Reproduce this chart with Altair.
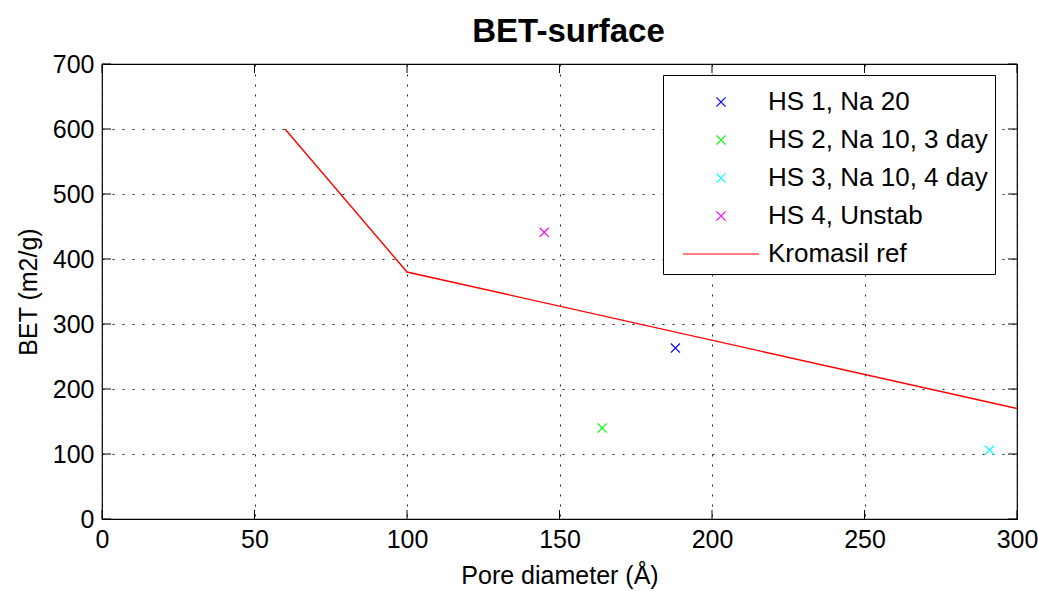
import altair as alt
import pandas as pd

# ---- data ----
series = ["HS 1, Na 20", "HS 2, Na 10, 3 day", "HS 3, Na 10, 4 day", "HS 4, Unstab"]
pore = [188, 164, 291, 145]
bet = [263, 140, 106, 441]

ref_name = "Kromasil ref"
ref_pore = [60, 100, 300]
ref_bet = [600, 380, 170]

x_ticks = [0, 50, 100, 150, 200, 250, 300]
y_ticks = [0, 100, 200, 300, 400, 500, 600, 700]

names = series + [ref_name]
colors = ["#0000ff", "#00ff00", "#00ffff", "#ff00ff", "#ff0000"]
xpath = "M-0.24,-0.24L0.24,0.24M-0.24,0.24L0.24,-0.24"
shapes = [xpath, xpath, xpath, xpath, "M-2,0L2,0"]

W, H = 915, 455
FONT = "Liberation Sans"
FS = 25
TL = 9  # inward tick length

pts = pd.DataFrame({"pore": pore, "bet": bet, "series": series})
ref = pd.DataFrame({"pore": ref_pore, "bet": ref_bet, "series": [ref_name] * len(ref_pore)})
xt = pd.DataFrame({"v": x_ticks})
yt = pd.DataFrame({"v": y_ticks})

xs = alt.Scale(domain=[0, 300], nice=False, zero=False)
ys = alt.Scale(domain=[0, 700], nice=False, zero=False)

xaxis = alt.Axis(values=x_ticks, grid=True, ticks=False, domain=False, labelPadding=8,
                 labelFlush=False, title="Pore diameter (Å)", titlePadding=11)
yaxis = alt.Axis(values=y_ticks, grid=True, ticks=False, domain=False, labelPadding=8,
                 labelFlush=False, title="BET (m2/g)", titlePadding=11)

leg = alt.Legend(orient="none", legendX=561, legendY=11, title=None,
                 symbolSize=1444, symbolStrokeWidth=1.2, symbolOffset=31, labelOffset=27,
                 padding=7, rowPadding=5, strokeColor="black", fillColor="white",
                 labelFont=FONT, labelFontSize=26, labelColor="black", labelLimit=400,
                 cornerRadius=0)

cscale = alt.Scale(domain=names, range=colors)
sscale = alt.Scale(domain=names, range=shapes)

line = alt.Chart(ref).mark_line(strokeWidth=1.4).encode(
    x=alt.X("pore:Q", scale=xs, axis=xaxis),
    y=alt.Y("bet:Q", scale=ys, axis=yaxis),
    color=alt.Color("series:N", scale=cscale, legend=leg),
    shape=alt.Shape("series:N", scale=sscale, legend=leg),
)

points = alt.Chart(pts).mark_point(filled=False, size=1444, strokeWidth=1.2, opacity=1).encode(
    x=alt.X("pore:Q", scale=xs, axis=xaxis),
    y=alt.Y("bet:Q", scale=ys, axis=yaxis),
    color=alt.Color("series:N", scale=cscale, legend=leg),
    shape=alt.Shape("series:N", scale=sscale, legend=leg),
)

tick_b = alt.Chart(xt).mark_rule(color="black").encode(
    x=alt.X("v:Q", scale=xs, axis=xaxis), y=alt.value(H - TL), y2=alt.value(H))
tick_t = alt.Chart(xt).mark_rule(color="black").encode(
    x=alt.X("v:Q", scale=xs, axis=xaxis), y=alt.value(0), y2=alt.value(TL))
tick_l = alt.Chart(yt).mark_rule(color="black").encode(
    y=alt.Y("v:Q", scale=ys, axis=yaxis), x=alt.value(0), x2=alt.value(TL))
tick_r = alt.Chart(yt).mark_rule(color="black").encode(
    y=alt.Y("v:Q", scale=ys, axis=yaxis), x=alt.value(W - TL), x2=alt.value(W))

chart = alt.layer(line, points, tick_b, tick_t, tick_l, tick_r).properties(
    width=W, height=H, background="white",
    title=alt.TitleParams("BET-surface", font=FONT, fontSize=33, fontWeight="bold",
                          color="black", anchor="middle", offset=3, dx=9),
    autosize=alt.AutoSizeParams(type="none"),
    padding={"left": 102, "top": 64, "right": 21, "bottom": 72},
).configure_view(
    stroke="black", strokeWidth=1.2
).configure_axis(
    labelFont=FONT, labelFontSize=FS, labelColor="black",
    titleFont=FONT, titleFontSize=FS, titleColor="black", titleFontWeight="normal",
    gridColor="black", gridDash=[2, 8], gridOpacity=0.85, gridWidth=1,
)

chart.save("out.html", embed_options={"renderer": "svg", "actions": False})
